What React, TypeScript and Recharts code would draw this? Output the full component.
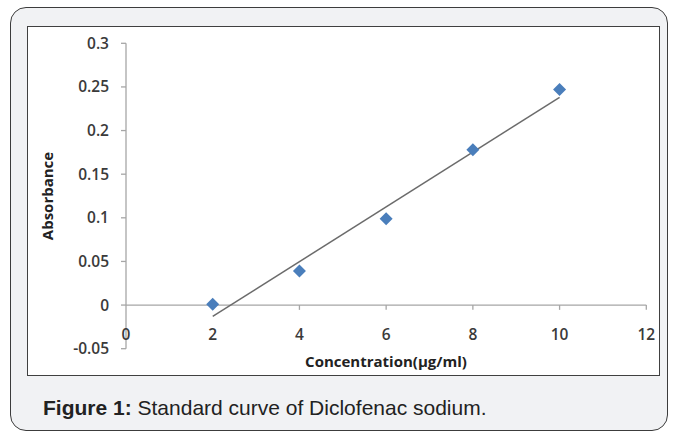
import { ScatterChart, Scatter, XAxis, YAxis, ReferenceLine } from 'recharts';

const concentration = [2, 4, 6, 8, 10];
const absorbance = [0.001, 0.039, 0.099, 0.178, 0.247];
const trendX = [2, 10];
const trendY = [-0.013, 0.238];
const xTicks = [0, 2, 4, 6, 8, 10, 12];
const yTicks = [-0.05, 0, 0.05, 0.1, 0.15, 0.2, 0.25, 0.3];

const points = concentration.map((x, i) => ({ x, y: absorbance[i] }));
const trend = trendX.map((x, i) => ({ x, y: trendY[i] }));

const AXIS = '#a6a6a6';
const LABEL = '#3a3a3a';
const FONT = '"Open Sans", sans-serif';

const Diamond = (props: any) => {
  const { cx, cy } = props;
  const r = 6.5;
  return <path d={`M${cx},${cy - r}L${cx + r},${cy}L${cx},${cy + r}L${cx - r},${cy}Z`} fill="#4a7ebb" />;
};

const XTick = (props: any) => {
  const { x, y, payload } = props;
  return (
    <text x={x} y={y} dy={-11} textAnchor="middle" fill={LABEL} fontSize={15.5} fontWeight={600} fontFamily={FONT}>
      {payload.value}
    </text>
  );
};

export default function App() {
  return (
    <div style={{ position: 'absolute', left: 0, top: 0, width: 673, height: 432, overflow: 'hidden', background: '#fff' }}>
      <div
        style={{
          position: 'absolute', left: 10, top: 7, width: 658, height: 424, boxSizing: 'border-box',
          border: '1.5px solid #3c3c3c', borderRadius: 16, background: '#f1f2f4',
        }}
      />
      <div
        style={{
          position: 'absolute', left: 27, top: 26, width: 633, height: 350, boxSizing: 'border-box',
          border: '1.5px solid #404040', background: '#fff',
        }}
      />
      <div style={{ position: 'absolute', left: 0, top: 0 }}>
        <ScatterChart width={673} height={432} margin={{ top: 43.3, right: 26.7, bottom: 63.3, left: 66 }}>
          <XAxis
            type="number"
            dataKey="x"
            domain={[0, 12]}
            ticks={xTicks}
            axisLine={false}
            tickLine={false}
            tickSize={0}
            height={20}
            tick={<XTick />}
            interval={0}
          />
          <YAxis
            type="number"
            dataKey="y"
            domain={[-0.05, 0.3]}
            ticks={yTicks}
            width={60}
            axisLine={{ stroke: AXIS, strokeWidth: 1.3 }}
            tickLine={{ stroke: AXIS, strokeWidth: 1.3 }}
            tickSize={5}
            tickMargin={12}
            interval={0}
            tick={{ fill: LABEL, fontSize: 15.5, fontWeight: 600, fontFamily: FONT }}
          />
          <ReferenceLine y={0} stroke={AXIS} strokeWidth={1.3} />
          {xTicks.slice(1).map((t) => (
            <ReferenceLine
              key={t}
              segment={[{ x: t, y: 0 }, { x: t, y: -0.0055 }]}
              stroke={AXIS}
              strokeWidth={1.3}
            />
          ))}
          <Scatter
            data={trend}
            dataKey="y"
            line={{ stroke: '#6b6b6b', strokeWidth: 1.5 }}
            lineType="joint"
            shape={() => <g />}
            isAnimationActive={false}
          />
          <Scatter data={points} dataKey="y" shape={<Diamond />} isAnimationActive={false} />
        </ScatterChart>
      </div>
      <div
        style={{
          position: 'absolute', left: 47, top: 196, transform: 'translate(-50%, -50%) rotate(-90deg)',
          fontFamily: FONT, fontWeight: 700, fontSize: 15, color: '#222', whiteSpace: 'nowrap',
        }}
      >
        Absorbance
      </div>
      <div
        style={{
          position: 'absolute', left: 386, top: 361, transform: 'translate(-50%, -50%)',
          fontFamily: FONT, fontWeight: 700, fontSize: 15, color: '#222', whiteSpace: 'nowrap',
        }}
      >
        Concentration(µg/ml)
      </div>
      <div
        style={{
          position: 'absolute', left: 43, top: 396, fontFamily: '"Liberation Sans", Arial, sans-serif',
          fontSize: 21, color: '#222', whiteSpace: 'nowrap', lineHeight: '24px',
        }}
      >
        <b>Figure 1:</b> Standard curve of Diclofenac sodium.
      </div>
    </div>
  );
}
